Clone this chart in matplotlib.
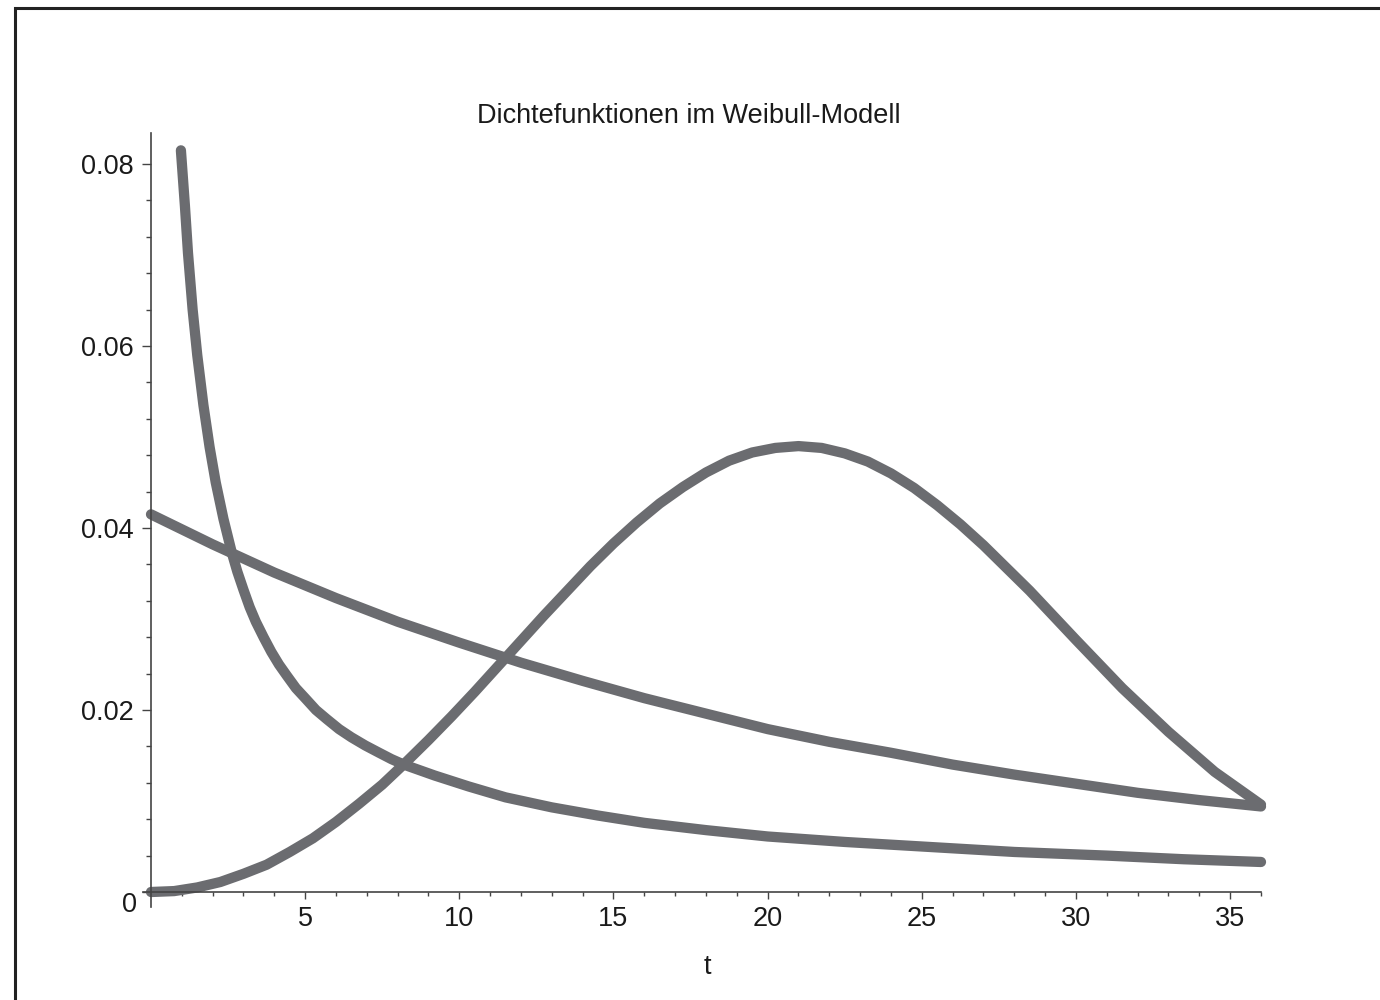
import matplotlib
matplotlib.use("Agg")
import matplotlib.pyplot as plt
from matplotlib.patches import Rectangle
from matplotlib.ticker import MultipleLocator, FixedLocator

plt.rcParams['font.family'] = ['Liberation Sans', 'DejaVu Sans']

# Werte
t_a = [0.97, 1.1, 1.2, 1.35, 1.5, 1.7, 1.9, 2.1, 2.35, 2.62, 2.8, 3.0, 3.2,
       3.4, 3.65, 3.9, 4.15, 4.4, 4.7, 5.0, 5.35, 5.7, 6.1, 6.5, 6.95, 7.4,
       7.8, 8.2, 9.2, 10.3, 11.5, 13.0, 14.5, 16.0, 18.0, 20.0, 22.5, 25.0,
       28.0, 31.0, 33.5, 36.0]
f_a = [0.0815, 0.0754, 0.0702, 0.0640, 0.0590, 0.0535, 0.0489, 0.0450, 0.0410,
       0.0373, 0.0352, 0.0332, 0.0313, 0.0297, 0.0280, 0.0264, 0.0250, 0.0238,
       0.0224, 0.0213, 0.0200, 0.0190, 0.0179, 0.0170, 0.0161, 0.0153, 0.0146,
       0.0140, 0.0128, 0.0116, 0.0104, 0.0093, 0.0084, 0.0076, 0.0068, 0.0061,
       0.0055, 0.0050, 0.0044, 0.0040, 0.0036, 0.0033]

t_b = [0, 2, 4, 6, 8, 10, 12, 14, 16, 18, 20, 22, 24, 26, 28, 30, 32, 34, 36]
f_b = [0.0415, 0.0382, 0.0351, 0.0323, 0.0297, 0.0274, 0.0252, 0.0232, 0.0213,
       0.0196, 0.0179, 0.0165, 0.0153, 0.0140, 0.0129, 0.0119, 0.0109, 0.0101,
       0.0094]

t_c = [0, 0.75, 1.5, 2.25, 3, 3.75, 4.5, 5.25, 6, 6.75, 7.5, 8.25, 9, 9.75,
       10.5, 11.25, 12, 12.75, 13.5, 14.25, 15, 15.75, 16.5, 17.25, 18, 18.75,
       19.5, 20.25, 21, 21.75, 22.5, 23.25, 24, 24.75, 25.5, 26.25, 27, 27.75,
       28.5, 30, 31.5, 33, 34.5, 36]
f_c = [0.0000, 0.0001, 0.0005, 0.0011, 0.0020, 0.0030, 0.0044, 0.0059, 0.0077,
       0.0097, 0.0118, 0.0142, 0.0167, 0.0193, 0.0220, 0.0248, 0.0276, 0.0304,
       0.0331, 0.0358, 0.0383, 0.0406, 0.0427, 0.0445, 0.0461, 0.0474, 0.0483,
       0.0488, 0.0490, 0.0488, 0.0482, 0.0473, 0.0460, 0.0444, 0.0425, 0.0404,
       0.0381, 0.0356, 0.0331, 0.0277, 0.0224, 0.0176, 0.0132, 0.0096]

y_ticks = [0, 0.02, 0.04, 0.06, 0.08]
y_labels = ['', '0.02', '0.04', '0.06', '0.08']
x_ticks = [5, 10, 15, 20, 25, 30, 35]

W, H = 1380, 1000
fig = plt.figure(figsize=(W / 100, H / 100), dpi=100)

# Achsenbereich in Pixeln: x 0..36 -> 151..1261, y 0..0.08 -> 892..164
x0, x1 = -0.25, 36.0
y0, y1 = -0.00165, 0.0834
px_per_t = (1261 - 151) / 36.0
px_per_f = (892 - 164) / 0.08
left = 151 + x0 * px_per_t
right = 1261
bottom = 892 - y0 * px_per_f
top = 892 - y1 * px_per_f
ax = fig.add_axes([left / W, 1 - bottom / H, (right - left) / W, (bottom - top) / H])
ax.set_xlim(x0, x1)
ax.set_ylim(y0, y1)

grey = '#6b6c70'
for t, f in [(t_a, f_a), (t_b, f_b), (t_c, f_c)]:
    ax.plot(t, f, color=grey, lw=7.4, solid_capstyle='round',
            solid_joinstyle='round', clip_on=False)

for s in ['top', 'right']:
    ax.spines[s].set_visible(False)
ax.spines['left'].set_position(('data', 0))
ax.spines['bottom'].set_position(('data', 0))
for s in ['left', 'bottom']:
    ax.spines[s].set_color('#444444')
    ax.spines[s].set_linewidth(1.2)

fs = 19.5
ax.xaxis.set_major_locator(FixedLocator(x_ticks))
ax.xaxis.set_minor_locator(MultipleLocator(1))
ax.yaxis.set_major_locator(FixedLocator(y_ticks))
ax.yaxis.set_minor_locator(MultipleLocator(0.004))
ax.set_xticklabels([str(v) for v in x_ticks])
ax.set_yticklabels(y_labels)
ax.tick_params(axis='x', which='major', direction='out', length=5, width=1,
               color='#444444', labelsize=fs, pad=5, labelcolor='#1a1a1a')
ax.tick_params(axis='x', which='minor', direction='out', length=3, width=1,
               color='#444444')
ax.tick_params(axis='y', which='major', direction='out', length=6.5, width=1,
               color='#444444', labelsize=fs, pad=6, labelcolor='#1a1a1a')
ax.tick_params(axis='y', which='minor', direction='out', length=3.5, width=1,
               color='#444444')

ax.annotate('0', xy=(0, 0), xytext=(-10, -9), textcoords='offset points',
            ha='right', va='center', fontsize=fs, color='#1a1a1a')

fig.text(689 / W, 1 - 116 / H, 'Dichtefunktionen im Weibull-Modell',
         ha='center', va='center', fontsize=fs, color='#1a1a1a')
fig.text(707 / W, 1 - 967 / H, 't', ha='center', va='center', fontsize=fs,
         color='#1a1a1a')

fig.patches.append(Rectangle((14.5 / W, -0.1), 1.2, 1.1 - 7.5 / H,
                             transform=fig.transFigure, fill=False,
                             edgecolor='#222222', lw=2.2, clip_on=False))

fig.savefig('out.png', dpi=100)
